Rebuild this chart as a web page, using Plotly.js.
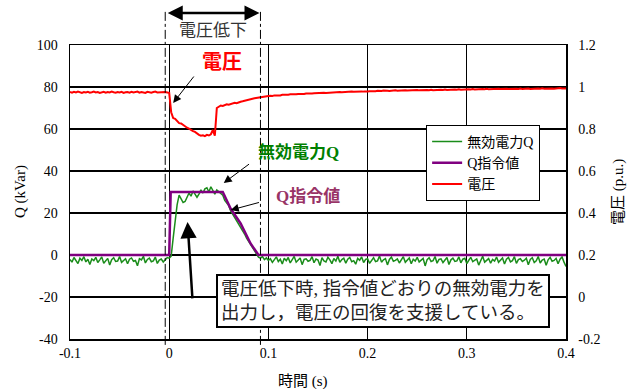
<!DOCTYPE html>
<html><head><meta charset="utf-8">
<script src="https://cdn.plot.ly/plotly-3.0.1.min.js"></script>
<style>html,body{margin:0;padding:0;background:#fff}#c{width:636px;height:389px}</style>
</head><body><div id="c"></div>
<script>
// sampling grid of the recorded waveforms (s)
const T_START = -0.1, T_STEP = 0.002;

// 無効電力Q (kVar), one value per sample
const qMeasured = [
-2.1,-3.4,-1.2,-2.8,-4.1,-1.5,-2.6,-0.8,-3.3,-2.0,
-4.5,-1.9,-2.7,-1.1,-3.6,-2.3,-0.9,-3.9,-2.5,-1.6,
-4.8,-2.2,-1.3,-3.1,-2.9,-0.7,-3.5,-2.4,-1.8,-4.2,
-2.0,-1.4,-3.0,-2.6,-5.1,-1.7,-2.3,-0.6,-3.8,-2.1,
-1.5,-3.2,-2.8,-1.0,-4.0,-2.4,-1.9,-3.3,-2.2,-1.2,
-1.5,-0.5,8.0,17.0,24.0,28.5,27.0,25.0,25.5,28.0,
29.5,28.0,30.5,29.0,27.5,29.0,31.0,29.5,31.5,32.0,
30.0,32.5,30.5,29.0,31.0,30.0,29.5,28.5,26.0,24.5,
23.5,21.0,19.5,17.5,16.0,14.5,13.5,11.5,10.0,8.0,
6.5,4.5,3.0,1.5,0.0,-1.0,-1.5,-0.8,-2.2,-1.4,
-2.6,
-1.8,-3.5,-2.4,-0.9,-3.1,-2.0,-4.3,-1.6,-2.7,-1.2,
-3.8,-2.2,-0.7,-3.4,-2.5,-1.4,-4.6,-2.1,-1.8,-3.0,
-2.6,-0.8,-3.7,-1.9,-2.4,-5.0,-1.3,-2.8,-3.3,-1.1,
-2.3,-4.1,-1.7,-2.9,-0.6,-3.5,-2.2,-1.5,-3.9,-2.0,
-1.2,-3.2,-2.7,-4.4,-1.6,-2.5,-0.9,-3.6,-2.1,-1.8,
-4.0,-2.4,-1.3,-3.1,-2.8,-0.5,-3.4,-2.3,-1.7,-4.7,
-2.1,-1.0,-3.0,-2.6,-1.9,-3.8,-2.2,-0.8,-3.5,-2.4,
-1.4,-4.2,-2.0,-2.9,-1.1,-3.3,-2.5,-1.6,-5.2,-2.2,
-1.3,-3.1,-2.7,-0.7,-3.9,-2.1,-1.8,-3.6,-2.4,-1.2,
-4.5,-2.3,-1.5,-3.0,-2.8,-0.9,-3.7,-2.0,-1.6,-4.1,
-2.5,-1.1,-3.2,-2.6,-1.9,-4.8,-2.2,-0.6,-3.4,-2.3,
-1.7,-3.9,-2.1,-2.9,-1.0,-3.5,-2.4,-1.4,-4.3,-2.0,
-1.2,-3.3,-2.7,-0.8,-4.0,-2.2,-1.8,-3.1,-2.5,-1.5,
-4.6,-2.1,-1.3,-3.6,-2.8,-0.7,-3.8,-2.4,-1.9,-4.9,
-2.3,-1.1,-3.0,-2.6,-1.6,-4.2,-2.0,-0.9,-3.4,-5.5
];

// 電圧 (p.u.), one value per sample
const voltage = [
0.976,0.973,0.977,0.974,0.978,0.975,0.972,0.976,0.974,0.977,
0.973,0.975,0.978,0.974,0.976,0.972,0.975,0.977,0.973,0.976,
0.974,0.978,0.975,0.973,0.976,0.974,0.977,0.972,0.975,0.976,
0.973,0.977,0.974,0.975,0.978,0.973,0.976,0.974,0.972,0.977,
0.975,0.973,0.976,0.978,0.974,0.975,0.973,0.977,0.976,0.974,
0.972,0.880,0.852,0.848,0.835,0.828,0.826,0.818,0.812,0.806,
0.802,0.795,0.790,0.786,0.778,0.772,0.768,0.770,0.766,0.772,
0.769,0.775,0.795,0.768,0.900,0.905,0.912,0.910,0.915,0.918,
0.916,0.920,0.922,0.925,0.923,0.928,0.930,0.932,0.935,0.937,
0.940,0.942,0.944,0.946,0.948,0.950,0.951,0.953,0.954,0.956,
0.957,
0.958,0.957,0.960,0.959,0.961,0.960,0.963,0.962,0.964,0.963,
0.965,0.964,0.966,0.965,0.967,0.966,0.968,0.967,0.969,0.968,
0.970,0.969,0.970,0.971,0.970,0.972,0.971,0.973,0.972,0.973,
0.974,0.973,0.975,0.974,0.975,0.976,0.975,0.976,0.977,0.976,
0.977,0.978,0.977,0.978,0.979,0.978,0.979,0.978,0.980,0.979,
0.980,0.979,0.981,0.980,0.982,0.980,0.981,0.983,0.981,0.982,
0.981,0.983,0.982,0.984,0.982,0.983,0.984,0.982,0.985,0.983,
0.984,0.983,0.985,0.984,0.986,0.984,0.985,0.986,0.984,0.986,
0.985,0.987,0.985,0.986,0.987,0.985,0.987,0.986,0.988,0.986,
0.987,0.988,0.986,0.988,0.987,0.989,0.987,0.988,0.989,0.987,
0.989,0.988,0.990,0.988,0.989,0.990,0.988,0.990,0.989,0.991,
0.989,0.990,0.991,0.989,0.990,0.992,0.990,0.991,0.990,0.992,
0.990,0.991,0.992,0.990,0.992,0.991,0.993,0.991,0.992,0.991,
0.993,0.991,0.992,0.993,0.991,0.993,0.992,0.994,0.992,0.993,
0.992,0.994,0.993,0.992,0.994,0.993,0.995,0.993,0.994,0.993
];

// Q指令値 (kVar)
const cmdTime  = [-0.1, 0.0, 0.0015, 0.054, 0.062, 0.072, 0.082, 0.090, 0.4];
const cmdValue = [0, 0, 30, 30, 22, 15, 5.5, 0, 0];

// tick labels
const xTicks = [-0.1, 0, 0.1, 0.2, 0.3, 0.4];
const xTickText = ['-0.1','0','0.1','0.2','0.3','0.4'];
const yTicks = [-40,-20,0,20,40,60,80,100];
const yTickText = ['-40','-20','0','20','40','60','80','100'];
const y2Ticks = [-0.2,0,0.2,0.4,0.6,0.8,1,1.2];
const y2TickText = ['-0.2','0','0.2','0.4','0.6','0.8','1','1.2'];

// 電圧低下 interval markers (s)
const dipStart = -0.004, dipEnd = 0.092;

const tQ = qMeasured.map((_, i) => +(T_START + i * T_STEP).toFixed(4));
const tV = voltage.map((_, i) => +(T_START + i * T_STEP).toFixed(4));

const SERIF = 'Times New Roman, Liberation Serif, Noto Sans CJK JP, serif';
const JP = 'Times New Roman, Liberation Serif, Noto Sans CJK JP, sans-serif';

const traces = [
  {x: tQ, y: qMeasured, name: '無効電力Q', type: 'scatter', mode: 'lines',
   line: {color: '#1a8c1a', width: 1.5}},
  {x: cmdTime, y: cmdValue, name: 'Q指令値', type: 'scatter', mode: 'lines',
   line: {color: '#800080', width: 2.5}},
  {x: tV, y: voltage, name: '電圧', type: 'scatter', mode: 'lines', yaxis: 'y2',
   line: {color: '#ff0000', width: 2}}
];

const axisCommon = {
  showline: true, linecolor: '#000', linewidth: 1.5, mirror: false,
  zeroline: false, ticks: 'outside', tickcolor: 'rgba(0,0,0,0)',
  tickfont: {family: SERIF, size: 14, color: '#000'}
};

const layout = {
  width: 636, height: 389,
  margin: {l: 70, r: 70, t: 45, b: 50},
  paper_bgcolor: '#fff', plot_bgcolor: '#fff',
  font: {family: JP, color: '#000'},
  showlegend: true,
  legend: {x: 0.718, y: 0.728, xanchor: 'left', yanchor: 'top',
    bgcolor: '#fff', bordercolor: '#000', borderwidth: 1,
    font: {family: JP, size: 14, color: '#000'}, itemwidth: 30, tracegroupgap: 0},
  xaxis: Object.assign({}, axisCommon, {
    range: [-0.1, 0.4], tickvals: xTicks, ticktext: xTickText, ticklen: 1,
    showgrid: true, gridcolor: '#000', gridwidth: 1, mirror: true
  }),
  yaxis: Object.assign({}, axisCommon, {
    range: [-40, 100], tickvals: yTicks, ticktext: yTickText, ticklen: 8,
    showgrid: true, gridcolor: '#000', gridwidth: 1.2
  }),
  yaxis2: Object.assign({}, axisCommon, {
    range: [-0.2, 1.2], tickvals: y2Ticks, ticktext: y2TickText, ticklen: 8,
    overlaying: 'y', side: 'right', showgrid: false
  }),
  shapes: [
    {type: 'line', xref: 'x', yref: 'paper', x0: dipStart, x1: dipStart, y0: -0.02, y1: 1.12,
     line: {color: '#000', width: 1, dash: 'dashdot'}},
    {type: 'line', xref: 'x', yref: 'paper', x0: dipEnd, x1: dipEnd, y0: -0.02, y1: 1.12,
     line: {color: '#000', width: 1, dash: 'dashdot'}}
  ],
  annotations: [
    // double arrow for 電圧低下
    {xref: 'x', yref: 'paper', x: dipEnd - 0.001, y: 1.109, axref: 'x', ayref: 'pixel',
     ax: dipStart + 0.001, ay: 0, text: '', showarrow: true, arrowside: 'end+start',
     arrowhead: 2, arrowsize: 1.2, arrowwidth: 2.5, arrowcolor: '#000', standoff: 0, startstandoff: 0},
    {xref: 'x', yref: 'paper', x: 0.044, y: 1.051, xanchor: 'center', yanchor: 'middle',
     text: '電圧低下', showarrow: false,
     font: {family: JP, size: 17, color: '#333'}},
    // 電圧 label + arrow
    {xref: 'x', yref: 'y', x: 0.053, y: 91.9, text: '<b>電圧</b>', showarrow: false,
     font: {family: JP, size: 20, color: '#ff0000'}},
    {xref: 'x', yref: 'y', x: 0.004, y: 72.4, axref: 'x', ayref: 'y', ax: 0.026, ay: 85.7,
     text: '', showarrow: true, arrowhead: 2, arrowsize: 1.6, arrowwidth: 1, arrowcolor: '#000'},
    // 無効電力Q label + arrow
    {xref: 'x', yref: 'y', x: 0.130, y: 49, text: '<b>無効電力Q</b>', showarrow: false,
     font: {family: JP, size: 17, color: '#008000'}},
    {xref: 'x', yref: 'y', x: 0.055, y: 34.3, axref: 'x', ayref: 'y', ax: 0.082, ay: 43.8,
     text: '', showarrow: true, arrowhead: 2, arrowsize: 1.6, arrowwidth: 1, arrowcolor: '#000'},
    // Q指令値 label + arrow
    {xref: 'x', yref: 'y', x: 0.140, y: 28, text: '<b>Q指令値</b>', showarrow: false,
     font: {family: JP, size: 17, color: '#993366'}},
    {xref: 'x', yref: 'y', x: 0.062, y: 21.4, axref: 'x', ayref: 'y', ax: 0.092, ay: 25.2,
     text: '', showarrow: true, arrowhead: 2, arrowsize: 1.6, arrowwidth: 1, arrowcolor: '#000'},
    // long arrow from text box
    {xref: 'x', yref: 'y', x: 0.0185, y: 15.7, axref: 'x', ayref: 'y', ax: 0.0235, ay: -21.4,
     text: '', showarrow: true, arrowhead: 2, arrowsize: 1.3, arrowwidth: 2.5, arrowcolor: '#000', standoff: 0},
    // text box
    {xref: 'paper', yref: 'paper', x: 0.631, y: 0.129, xanchor: 'center', yanchor: 'middle',
     text: '電圧低下時, 指令値どおりの無効電力を<br>出力し，電圧の回復を支援している。',
     showarrow: false, align: 'left', bgcolor: '#fff', bordercolor: '#000', borderwidth: 2, borderpad: 3,
     font: {family: JP, size: 18.5, color: '#222'}},
    // axis titles
    {xref: 'paper', yref: 'paper', x: (20 - 70) / 496, y: 0.5, xanchor: 'center', yanchor: 'middle',
     text: 'Q (kVar)', textangle: -90,
     showarrow: false, font: {family: SERIF, size: 15, color: '#000'}},
    {xref: 'paper', yref: 'paper', x: (618 - 70) / 496, y: 0.5, xanchor: 'center', yanchor: 'middle',
     text: '電圧 (p.u.)', textangle: -90,
     showarrow: false, font: {family: JP, size: 15, color: '#000'}},
    {xref: 'paper', yref: 'paper', x: (303 - 70) / 496, y: (339 - 381) / 294, xanchor: 'center', yanchor: 'middle',
     text: '時間 (s)',
     showarrow: false, font: {family: JP, size: 15, color: '#000'}}
  ]
};

Plotly.newPlot('c', traces, layout, {staticPlot: true, displayModeBar: false});
</script>
</body></html>
